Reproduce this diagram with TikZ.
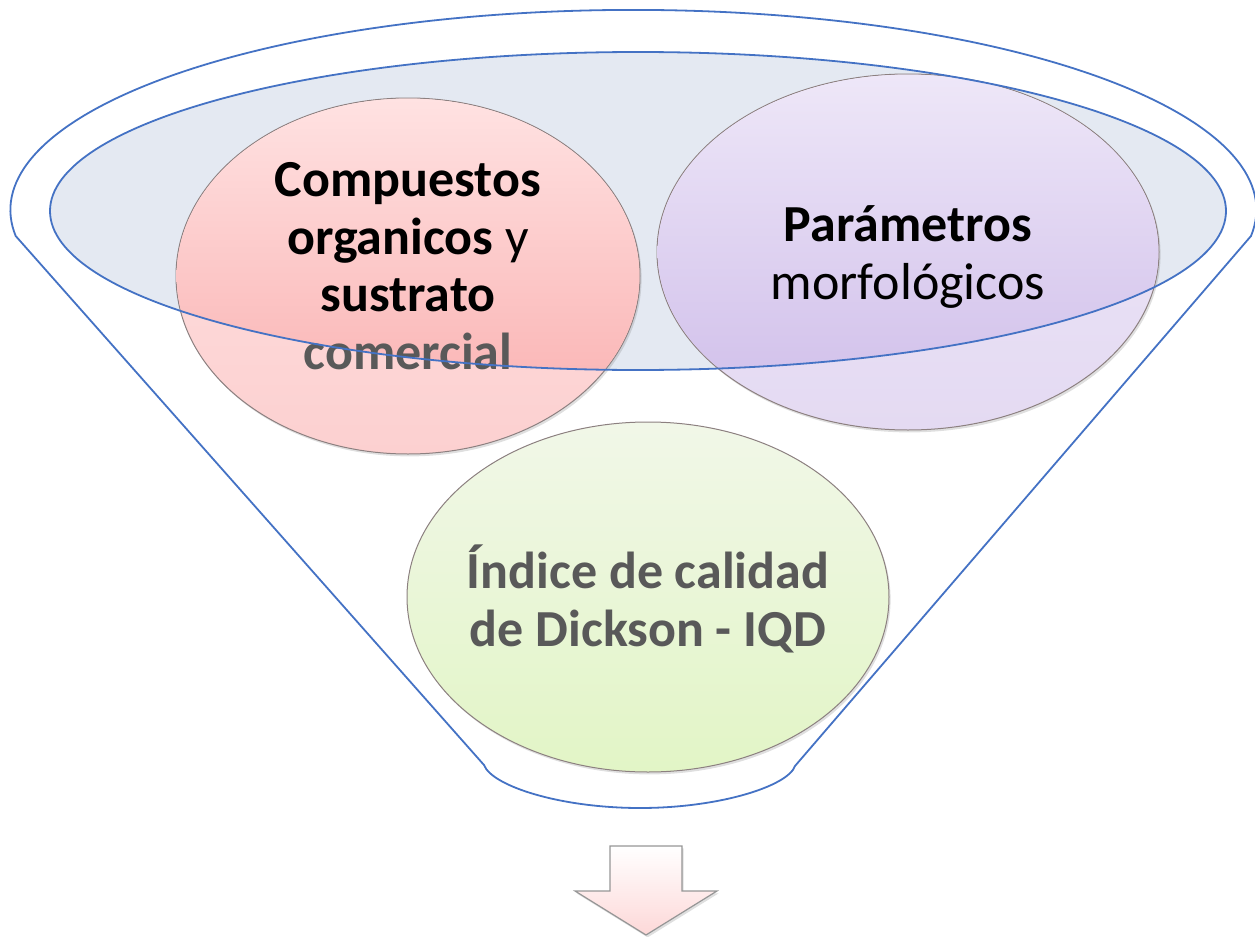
\documentclass[tikz,border=0pt]{standalone}
\usepackage{fontspec}
\setmainfont{Carlito}
\usetikzlibrary{shadows}

\definecolor{funnelblue}{RGB}{68,114,196}
\definecolor{rimfill}{RGB}{228,233,242}
\definecolor{textgray}{RGB}{89,89,89}
\definecolor{bubbleline}{RGB}{140,128,128}
\definecolor{pinktop}{RGB}{255,226,226}
\definecolor{pinklow}{RGB}{252,208,208}
\definecolor{pinkdeep}{RGB}{249,172,172}
\definecolor{lilactop}{RGB}{238,231,248}
\definecolor{lilaclow}{RGB}{228,218,242}
\definecolor{lilacdeep}{RGB}{206,188,233}
\definecolor{greentop}{RGB}{241,247,232}
\definecolor{greenlow}{RGB}{226,245,198}
\definecolor{arrowpink}{RGB}{253,216,216}
\definecolor{arrowline}{RGB}{150,150,150}

\begin{document}
\begin{tikzpicture}[x=0.5pt,y=0.5pt,
	funnel/.style={draw=funnelblue,line width=0.9pt},
	bubble/.style={draw=bubbleline,line width=0.5pt,drop shadow={opacity=0.25,shadow xshift=0.8pt,shadow yshift=-1.2pt}},
	blurb/.style={align=center,inner sep=0pt,font=\fontsize{26}{28.8}\selectfont}]
	\useasboundingbox (0,0) rectangle (1255,-937);

	% funnel outline
	\draw[funnel] (1251,-236) arc[start angle=-7.5,end angle=187.5,x radius=311.5pt,y radius=100pt]
		-- (484,-765) .. controls (492,-786) and (560,-808) .. (640,-808)
		.. controls (720,-808) and (788,-786) .. (795,-766) -- cycle;

	\coordinate (rim)  at (638,-211);
	\coordinate (cpos) at (408,-276);
	\coordinate (ppos) at (908,-252);
	\coordinate (gpos) at (648,-597);

	% rim and bubbles
	\fill[rimfill] (rim) ellipse [x radius=294pt,y radius=79.5pt];
	\shade[bubble,top color=pinktop,bottom color=pinklow] (cpos) ellipse [x radius=116pt,y radius=89pt];
	\shade[bubble,top color=lilactop,bottom color=lilaclow] (ppos) ellipse [x radius=125.5pt,y radius=89pt];
	\shade[bubble,top color=greentop,bottom color=greenlow] (gpos) ellipse [x radius=120.5pt,y radius=87.5pt];
	\begin{scope}
		\clip (rim) ellipse [x radius=294pt,y radius=79.5pt];
		\shade[top color=pinktop,bottom color=pinkdeep] (cpos) ellipse [x radius=115.7pt,y radius=88.7pt];
		\shade[top color=lilactop,bottom color=lilacdeep] (ppos) ellipse [x radius=125.2pt,y radius=88.7pt];
	\end{scope}

	% texts
	\node[blurb] (comp) at ([yshift=5pt]cpos)
		{\textbf{Compuestos}\\\textbf{organicos} y\\\textbf{sustrato}\\\textcolor{textgray}{\textbf{comercial}}};
	\node[blurb] (param) at ([yshift=-2.5pt]ppos)
		{\textbf{Parámetros}\\morfológicos};
	\node[blurb,text=textgray,font=\fontsize{26}{28.8}\selectfont\bfseries] (iqd) at ([yshift=-1pt]gpos)
		{Índice de calidad\\de Dickson - IQD};

	\draw[funnel] (rim) ellipse [x radius=294pt,y radius=79.5pt];

	% arrow
	\shade[bubble,draw=arrowline,line width=0.6pt,top color=white,bottom color=arrowpink]
		(610,-846) -- (682,-846) -- (682,-891) -- (717,-891) -- (646,-935) -- (575,-891) -- (610,-891) -- cycle;
\end{tikzpicture}
\end{document}
